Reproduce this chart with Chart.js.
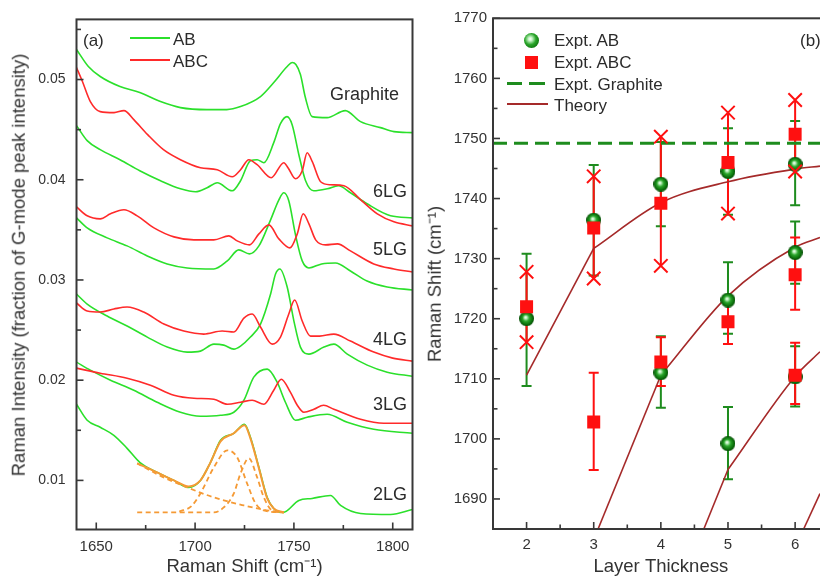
<!DOCTYPE html>
<html>
<head>
<meta charset="utf-8">
<script src="https://cdn.jsdelivr.net/npm/chart.js@4.4.1/dist/chart.umd.min.js"></script>
<style>
  html,body{margin:0;padding:0;background:#fff;}
  body{width:820px;height:578px;overflow:hidden;position:relative;font-family:'Liberation Sans',Arial,sans-serif;color:#2b2b2b;}
  canvas{position:absolute;top:0;}
  .t{position:absolute;white-space:nowrap;transform:translateY(-50%);line-height:1;}
  .tr{position:absolute;white-space:nowrap;transform:translate(-100%,-50%);line-height:1;}
  .rot{position:absolute;white-space:nowrap;transform:translate(-50%,-50%) rotate(-90deg);line-height:1;font-size:18.5px;color:#333;}
  .ln{position:absolute;}
</style>
</head>
<body>
<canvas id="c1" width="420" height="578" style="left:0px"></canvas>
<canvas id="c2" width="420" height="578" style="left:415px"></canvas>

<!-- axis titles (vertical) -->
<div class="rot" style="left:19px;top:265px">Raman Intensity (fraction of G-mode peak intensity)</div>
<div class="rot" style="left:435px;top:284px">Raman Shift (cm⁻¹)</div>

<!-- panel (a) legend and labels -->
<div class="t" style="left:83px;top:40px;font-size:17px">(a)</div>
<div class="ln" style="left:130px;top:37px;width:40px;height:2px;background:#2be02b"></div>
<div class="t" style="left:173px;top:39px;font-size:17px">AB</div>
<div class="ln" style="left:130px;top:59px;width:40px;height:2px;background:#ff2a2a"></div>
<div class="t" style="left:173px;top:61px;font-size:17px">ABC</div>
<div class="tr" style="left:399px;top:94px;font-size:18px">Graphite</div>
<div class="tr" style="left:407px;top:191px;font-size:18px">6LG</div>
<div class="tr" style="left:407px;top:249px;font-size:18px">5LG</div>
<div class="tr" style="left:407px;top:339px;font-size:18px">4LG</div>
<div class="tr" style="left:407px;top:404px;font-size:18px">3LG</div>
<div class="tr" style="left:407px;top:494px;font-size:18px">2LG</div>

<!-- panel (b) legend -->
<div class="ln" style="left:524px;top:32.5px;width:15px;height:15px;border-radius:50%;background:radial-gradient(circle at 42% 40%,#ffffff 0%,#c8f5c8 15%,#2aa52a 45%,#0b700b 80%,#064a06 100%)"></div>
<div class="t" style="left:554px;top:40px;font-size:17px">Expt. AB</div>
<div class="ln" style="left:524.5px;top:55.5px;width:13px;height:13px;background:#ff1010"></div>
<div class="t" style="left:554px;top:62px;font-size:17px">Expt. ABC</div>
<div class="ln" style="left:507px;top:81.5px;width:15px;height:3px;background:#1e8c1e"></div>
<div class="ln" style="left:529px;top:81.5px;width:16px;height:3px;background:#1e8c1e"></div>
<div class="t" style="left:554px;top:84px;font-size:17px">Expt. Graphite</div>
<div class="ln" style="left:507px;top:103px;width:41px;height:2px;background:#a52a2a"></div>
<div class="t" style="left:554px;top:105px;font-size:17px">Theory</div>
<div class="t" style="left:800px;top:40px;font-size:17px">(b)</div>

<script>
// ---------------- Panel (a) data: Raman spectra [shift, intensity] ----------------
const abGraphite = [[1640,0.0530],[1646,0.0513],[1652,0.0503],[1662,0.0493],[1672,0.0487],[1682.5,0.0478],[1692.6,0.0472],[1706,0.0470],[1716,0.0470],[1723,0.0473],[1733.1,0.0483],[1739.8,0.0497],[1746.6,0.0513],[1749.1,0.0517],[1751,0.0515],[1753.3,0.0505],[1755.8,0.0482],[1759.2,0.0463],[1766.8,0.0462],[1776,0.0469],[1783.7,0.0458],[1793.8,0.0452],[1800.6,0.0448],[1810,0.0447]];
const abc6LG = [[1640,0.0512],[1643,0.0498],[1647,0.0478],[1652,0.0468],[1659,0.0467],[1664,0.0469],[1669,0.0460],[1676,0.0445],[1684,0.0430],[1692.6,0.0420],[1702.7,0.0412],[1711.2,0.0410],[1718.8,0.0403],[1723,0.0410],[1727.2,0.0420],[1731.4,0.0415],[1738.5,0.0402],[1744.9,0.0417],[1747,0.0412],[1750.8,0.0401],[1754.2,0.0409],[1756.7,0.0427],[1759.3,0.0418],[1763.5,0.0398],[1768.5,0.0395],[1775.3,0.0394],[1783.8,0.0380],[1792.2,0.0366],[1800.6,0.0358],[1810,0.0354]];
const ab6LG = [[1640,0.0454],[1645.4,0.0439],[1652,0.0430],[1662,0.0420],[1672,0.0409],[1682.5,0.0399],[1692.6,0.0391],[1700.2,0.0388],[1706.1,0.0392],[1711.2,0.0397],[1718.8,0.0389],[1723,0.0399],[1728,0.0419],[1731.4,0.0420],[1734.8,0.0417],[1739.8,0.0437],[1743.2,0.0456],[1746.5,0.0463],[1749.1,0.0455],[1752.5,0.0425],[1755.9,0.0399],[1760,0.0389],[1766.9,0.0391],[1772.5,0.0394],[1778.6,0.0387],[1787,0.0376],[1798.9,0.0364],[1810,0.0362]];
const abc5LG = [[1640,0.0373],[1645.4,0.0364],[1652,0.0361],[1657.2,0.0366],[1664,0.0370],[1670.7,0.0364],[1679.2,0.0352],[1689.3,0.0343],[1699.4,0.0340],[1709.5,0.0340],[1717.1,0.0344],[1721.3,0.0339],[1727.5,0.0335],[1732.3,0.0346],[1737.3,0.0355],[1742.4,0.0341],[1748,0.0332],[1751.7,0.0346],[1754.7,0.0366],[1757.6,0.0356],[1761,0.0340],[1766,0.0335],[1772,0.0336],[1778.6,0.0329],[1790.4,0.0316],[1800.6,0.0311],[1810,0.0308]];
const ab5LG = [[1640,0.0362],[1645.4,0.0352],[1655.5,0.0342],[1665.6,0.0334],[1675.8,0.0324],[1685.9,0.0316],[1696,0.0312],[1709.5,0.0311],[1716.3,0.0319],[1722.1,0.0330],[1727.5,0.0326],[1732.3,0.0334],[1738.2,0.0360],[1742.4,0.0380],[1744.9,0.0387],[1747.4,0.0379],[1750.8,0.0345],[1754.2,0.0319],[1757.6,0.0312],[1764,0.0316],[1771,0.0317],[1778.6,0.0309],[1787,0.0299],[1797.2,0.0293],[1810,0.0290]];
const abc4LG = [[1640,0.0277],[1645.4,0.0269],[1652,0.0268],[1658.9,0.0271],[1665.6,0.0273],[1674,0.0268],[1684.2,0.0256],[1694.3,0.0249],[1704.4,0.0246],[1713.7,0.0249],[1719.6,0.0248],[1724.7,0.0262],[1728.9,0.0266],[1733.1,0.0253],[1739,0.0236],[1743.2,0.0243],[1747.4,0.0266],[1750.4,0.0280],[1754.2,0.0259],[1758.4,0.0244],[1763,0.0244],[1770.2,0.0246],[1778.6,0.0239],[1790.4,0.0228],[1800,0.0222],[1810,0.0219]];
const ab4LG = [[1640,0.0286],[1645.4,0.0276],[1655.5,0.0264],[1665.6,0.0254],[1675.8,0.0243],[1685.9,0.0233],[1696,0.0228],[1702.7,0.0229],[1709.5,0.0236],[1714.5,0.0235],[1719.6,0.0231],[1723,0.0234],[1728,0.0243],[1733.1,0.0256],[1738.2,0.0286],[1740.7,0.0306],[1742.9,0.0311],[1746.6,0.0293],[1750,0.0259],[1753.3,0.0233],[1757.6,0.0226],[1765.2,0.0233],[1770.2,0.0236],[1777,0.0226],[1787.1,0.0215],[1797.2,0.0208],[1810,0.0204]];
const abc3LG = [[1640,0.0212],[1652,0.0207],[1665.6,0.0202],[1677.4,0.0195],[1689.3,0.0185],[1699.4,0.0182],[1709.5,0.0181],[1716.3,0.0176],[1723,0.0178],[1728.9,0.0180],[1734.8,0.0176],[1739.8,0.0190],[1743.6,0.0201],[1748.2,0.0188],[1751.7,0.0175],[1755,0.0168],[1760.1,0.0171],[1765,0.0175],[1770.2,0.0171],[1783.7,0.0161],[1795.5,0.0157],[1810,0.0157]];
const ab3LG = [[1640,0.0218],[1647,0.0210],[1657.2,0.0200],[1669,0.0190],[1680.8,0.0178],[1692.6,0.0168],[1702.7,0.0164],[1712.9,0.0165],[1719.6,0.0168],[1724.7,0.0180],[1729.7,0.0203],[1736.5,0.0211],[1741.5,0.0198],[1745.7,0.0178],[1750.8,0.0160],[1756.7,0.0163],[1766.8,0.0166],[1777,0.0158],[1790.4,0.0151],[1810,0.0147]];
const ab2LG = [[1640,0.0176],[1645.4,0.0160],[1652,0.0153],[1658.9,0.0145],[1665.6,0.0132],[1672,0.0118],[1680.8,0.0108],[1689.3,0.0100],[1696.8,0.0093],[1702.7,0.0100],[1707.8,0.0118],[1712.9,0.0140],[1719.6,0.0147],[1725,0.0156],[1728,0.0143],[1732.3,0.0113],[1736.5,0.0083],[1739.8,0.0072],[1744.5,0.0068],[1752.5,0.0080],[1759.2,0.0082],[1768.5,0.0085],[1773.6,0.0075],[1783.7,0.0067],[1798.9,0.0066],[1810,0.0071]];
// 2LG peak fit (orange)
const fitSum = [[1670.7,0.0117],[1680.8,0.0108],[1689.3,0.0100],[1696.8,0.0094],[1702.7,0.0100],[1707.8,0.0118],[1712.9,0.0139],[1719.6,0.0147],[1725,0.0155],[1728,0.0142],[1732.3,0.0112],[1736.5,0.0082],[1739.8,0.0072],[1744.9,0.0068]];
const fitBackground = [[1670.7,0.0117],[1683,0.0104],[1696,0.0093],[1709.5,0.0083],[1724.7,0.0075],[1734,0.0071],[1744.9,0.0068]];
const fitPeak1 = [[1692,0.0069],[1698,0.0074],[1702.7,0.0087],[1709.5,0.0113],[1716.3,0.0130],[1721.3,0.0123],[1726.3,0.0097],[1730.6,0.0077],[1734.8,0.0070],[1744.9,0.0068]];
const fitPeak2 = [[1670.7,0.0068],[1709.5,0.0068],[1714.5,0.0073],[1719.6,0.0087],[1723,0.0107],[1727.2,0.0122],[1731.4,0.0103],[1734.8,0.0083],[1739,0.0070],[1744.9,0.0068]];
const xTicksA = [1650,1700,1750,1800];
const xMinorA = [1675,1725,1775];
const yTicksA = [0.01,0.02,0.03,0.04,0.05];
const yMinorA = [0.015,0.025,0.035,0.045,0.055];

// ---------------- Panel (b) data: layer thickness vs Raman shift ----------------
const abN   = [2,3,4,4,5,5,5,6,6,6];
const abY   = [1720.0,1736.4,1742.4,1711.0,1744.5,1723.1,1699.2,1745.7,1731.0,1710.3];
const abLo  = [1708.8,1727.2,1735.4,1705.2,1737.3,1717.5,1693.3,1738.9,1725.8,1705.4];
const abHi  = [1730.8,1745.6,1749.4,1717.1,1751.7,1729.4,1705.3,1752.9,1736.2,1715.4];
// ABC upper branch: range ends marked with crosses
const abcUpN  = [2,3,4,5,6];
const abcUpY  = [1722.0,1735.1,1739.2,1746.0,1750.7];
const abcUpLo = [1716.1,1726.7,1728.8,1737.5,1744.5];
const abcUpHi = [1727.8,1743.7,1750.3,1754.3,1756.4];
// ABC other modes: capped error bars
const abcN  = [3,4,5,6,6];
const abcY  = [1702.8,1712.8,1719.5,1727.3,1710.6];
const abcLo = [1694.8,1708.8,1715.8,1721.5,1705.8];
const abcHi = [1711.0,1716.9,1723.4,1733.5,1716.0];
const graphiteShift = 1749.2;
// theory branches (steep segment + curve)
const th1aN = [2,3],            th1aY = [1710.6,1731.7];
const th1bN = [3,4,5,6,6.37],   th1bY = [1731.7,1739.3,1742.8,1744.9,1745.4];
const th2aN = [3.065,4],        th2aY = [1685,1710.6];
const th2bN = [4,5,6,6.37],     th2bY = [1710.6,1723.8,1731.9,1733.5];
const th3aN = [4.64,5],         th3aY = [1685,1694.9];
const th3bN = [5,6,6.37],       th3bY = [1694.9,1710.4,1714.5];
const th4N  = [6.127,6.37],     th4Y  = [1685,1690.9];
const xTicksB = [2,3,4,5,6];
const xMinorB = [2.5,3.5,4.5,5.5];
const yTicksB = [1690,1700,1710,1720,1730,1740,1750,1760,1770];
const yMinorB = [1695,1705,1715,1725,1735,1745,1755,1765];

// ---------------- styling ----------------
Chart.defaults.font.family = "'Liberation Sans', Arial, sans-serif";
Chart.defaults.color = '#333';
const GREEN = '#2be02b', RED = '#ff2a2a', ORANGE = '#f59a35';
const AXIS = '#383838';

const pairs = a => a.map(p => ({x: p[0], y: p[1]}));
const zip = (xs, ys) => xs.map((x, i) => ({x, y: ys[i]}));

const frameTicks = {
  id: 'frameTicks',
  afterDatasetsDraw(chart, args, o) {
    const {ctx, chartArea: a, scales: {x, y}} = chart;
    ctx.save();
    ctx.strokeStyle = AXIS;
    ctx.lineWidth = 1.6;
    const seg = (x1, y1, x2, y2) => { ctx.beginPath(); ctx.moveTo(x1, y1); ctx.lineTo(x2, y2); ctx.stroke(); };
    o.xMajor.forEach(v => { const p = x.getPixelForValue(v); seg(p, a.bottom, p, a.bottom - 7); });
    o.xMinor.forEach(v => { const p = x.getPixelForValue(v); seg(p, a.bottom, p, a.bottom - 4.5); });
    o.yMajor.forEach(v => { const p = y.getPixelForValue(v); seg(a.left, p, a.left + 7, p); });
    o.yMinor.forEach(v => { const p = y.getPixelForValue(v); seg(a.left, p, a.left + 4.5, p); });
    ctx.lineWidth = 2;
    ctx.strokeRect(a.left, a.top, a.right - a.left, a.bottom - a.top);
    ctx.restore();
  }
};

const errorBars = {
  id: 'errorBars',
  beforeDatasetsDraw(chart) {
    const {ctx, scales: {x, y}} = chart;
    ctx.save();
    ctx.lineWidth = 2;
    const bar = (n, lo, hi, color, caps) => {
      const px = x.getPixelForValue(n), p1 = y.getPixelForValue(lo), p2 = y.getPixelForValue(hi);
      ctx.strokeStyle = color;
      ctx.beginPath(); ctx.moveTo(px, p1); ctx.lineTo(px, p2);
      if (caps) { ctx.moveTo(px - 5, p1); ctx.lineTo(px + 5, p1); ctx.moveTo(px - 5, p2); ctx.lineTo(px + 5, p2); }
      ctx.stroke();
    };
    abN.forEach((n, i) => bar(n, abLo[i], abHi[i], '#1e8c1e', true));
    abcUpN.forEach((n, i) => bar(n, abcUpLo[i], abcUpHi[i], '#ff1010', false));
    abcN.forEach((n, i) => bar(n, abcLo[i], abcHi[i], '#ff1010', true));
    ctx.restore();
  }
};

function spectrum(data, color, extra) {
  return Object.assign({data: pairs(data), borderColor: color, borderWidth: 1.6, pointRadius: 0,
    cubicInterpolationMode: 'monotone', fill: false}, extra || {});
}

// ---------------- Chart (a) ----------------
new Chart(document.getElementById('c1'), {
  type: 'line',
  data: {datasets: [
    spectrum(fitSum, ORANGE, {borderWidth: 2}),
    spectrum(fitBackground, ORANGE, {borderDash: [5, 3.5], borderWidth: 1.8}),
    spectrum(fitPeak1, ORANGE, {borderDash: [5, 3.5], borderWidth: 1.8}),
    spectrum(fitPeak2, ORANGE, {borderDash: [5, 3.5], borderWidth: 1.8}),
    spectrum(abGraphite, GREEN),
    spectrum(abc6LG, RED),
    spectrum(ab6LG, GREEN),
    spectrum(abc5LG, RED),
    spectrum(ab5LG, GREEN),
    spectrum(abc4LG, RED),
    spectrum(ab4LG, GREEN),
    spectrum(abc3LG, RED),
    spectrum(ab3LG, GREEN),
    spectrum(ab2LG, GREEN)
  ]},
  options: {
    responsive: false, animation: false, events: [],
    layout: {padding: {left: 0, right: 7.5, top: 18, bottom: 0}},
    plugins: {legend: {display: false}, tooltip: {enabled: false},
      frameTicks: {xMajor: xTicksA, xMinor: xMinorA, yMajor: yTicksA, yMinor: yMinorA}},
    scales: {
      x: {type: 'linear', min: 1640, max: 1810,
        grid: {display: false, drawTicks: false}, border: {display: false},
        afterBuildTicks: s => { s.ticks = xTicksA.map(v => ({value: v})); },
        ticks: {padding: 8, font: {size: 15}, color: '#333', callback: v => String(v)},
        title: {display: true, text: 'Raman Shift (cm⁻¹)', font: {size: 18.5}, color: '#333', padding: {top: 0, bottom: 0}},
        afterFit: s => { s.height = 48.5; }},
      y: {type: 'linear', min: 0.0051, max: 0.056,
        grid: {display: false, drawTicks: false}, border: {display: false},
        afterBuildTicks: s => { s.ticks = yTicksA.map(v => ({value: v})); },
        ticks: {padding: 11, font: {size: 14}, color: '#333', callback: v => Number(v).toFixed(2)},
        title: {display: false},
        afterFit: s => { s.width = 76.5; }}
    }
  },
  plugins: [frameTicks]
});

// ---------------- Chart (b) ----------------
function sphere(r) {
  const c = document.createElement('canvas');
  c.width = c.height = 2 * r;
  const g = c.getContext('2d');
  const grd = g.createRadialGradient(r * 0.85, r * 0.8, 0, r, r, r);
  grd.addColorStop(0, '#ffffff');
  grd.addColorStop(0.15, '#c8f5c8');
  grd.addColorStop(0.45, '#2aa52a');
  grd.addColorStop(0.8, '#0b700b');
  grd.addColorStop(1, '#064a06');
  g.fillStyle = grd;
  g.beginPath(); g.arc(r, r, r, 0, Math.PI * 2); g.fill();
  return c;
}
const sphereImg = sphere(7.5);
const THEORY = '#a52a2a';
const theoryLine = (xs, ys, curved) => ({data: zip(xs, ys), borderColor: THEORY, borderWidth: 1.6, pointRadius: 0,
  cubicInterpolationMode: curved ? 'monotone' : 'default', tension: 0, fill: false});

const crossData = abcUpN.flatMap((n, i) => [{x: n, y: abcUpHi[i]}, {x: n, y: abcUpLo[i]}]);

new Chart(document.getElementById('c2'), {
  type: 'line',
  data: {datasets: [
    {data: crossData, showLine: false, pointStyle: 'crossRot', pointRadius: 9.5, borderColor: '#ff1010', borderWidth: 2},
    {data: zip(abcUpN, abcUpY), showLine: false, pointStyle: 'rect', pointRadius: 9.2, backgroundColor: '#ff1010', borderColor: '#ff1010', borderWidth: 0},
    {data: zip(abcN, abcY), showLine: false, pointStyle: 'rect', pointRadius: 9.2, backgroundColor: '#ff1010', borderColor: '#ff1010', borderWidth: 0},
    {data: zip(abN, abY), showLine: false, pointStyle: sphereImg, pointRadius: 7.5},
    theoryLine(th1aN, th1aY, false),
    theoryLine(th1bN, th1bY, true),
    theoryLine(th2aN, th2aY, false),
    theoryLine(th2bN, th2bY, true),
    theoryLine(th3aN, th3aY, false),
    theoryLine(th3bN, th3bY, true),
    theoryLine(th4N, th4Y, false),
    {data: [{x: 1.5, y: graphiteShift}, {x: 6.5, y: graphiteShift}], borderColor: '#1e8c1e', borderWidth: 3, borderDash: [14, 7], pointRadius: 0}
  ]},
  options: {
    responsive: false, animation: false, events: [],
    layout: {autoPadding: false, padding: {left: 0, right: 6.3, top: 18.3, bottom: 0}},
    plugins: {legend: {display: false}, tooltip: {enabled: false},
      frameTicks: {xMajor: xTicksB, xMinor: xMinorB, yMajor: yTicksB, yMinor: yMinorB}},
    scales: {
      x: {type: 'linear', min: 1.5, max: 6.5,
        grid: {display: false, drawTicks: false}, border: {display: false},
        afterBuildTicks: s => { s.ticks = xTicksB.map(v => ({value: v})); },
        ticks: {padding: 7, font: {size: 15}, color: '#333', callback: v => String(v)},
        title: {display: true, text: 'Layer Thickness', font: {size: 18.5}, color: '#333', padding: {top: 0, bottom: 0}},
        afterFit: s => { s.height = 49; }},
      y: {type: 'linear', min: 1685, max: 1770,
        grid: {display: false, drawTicks: false}, border: {display: false},
        afterBuildTicks: s => { s.ticks = yTicksB.map(v => ({value: v})); },
        ticks: {padding: 6, font: {size: 15}, color: '#333', callback: v => String(v)},
        title: {display: false},
        afterFit: s => { s.width = 78; }}
    }
  },
  plugins: [errorBars, frameTicks]
});
</script>
</body>
</html>
